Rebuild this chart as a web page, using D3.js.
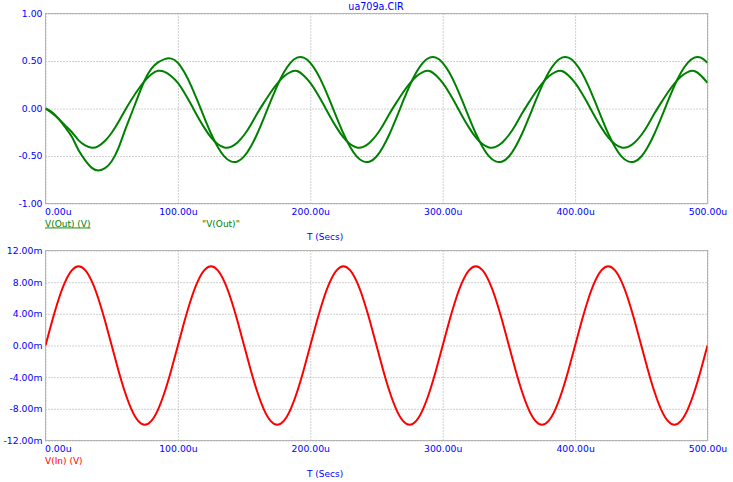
<!DOCTYPE html>
<html>
<head>
<meta charset="utf-8">
<script src="https://cdn.jsdelivr.net/npm/d3@7"></script>
<style>
  body { margin: 0; background: #fff; }
  text { font-family: "DejaVu Sans", sans-serif; font-size: 9px; }
</style>
</head>
<body>
<div id="chart"></div>
<script>
// sample times in microseconds (5u steps, 0..500u)
const times = d3.range(0, 501, 5);

// V(Out) trace with the larger swing
const vOutA = [
  0, -0.04, -0.11, -0.20, -0.30, -0.44, -0.545, -0.625, -0.652, -0.628,
  -0.555, -0.42, -0.23, -0.05, 0.13, 0.30, 0.42, 0.485, 0.52, 0.525,
  0.48, 0.378, 0.239, 0.074, -0.098, -0.263, -0.402, -0.504, -0.557, -0.558,
  -0.504, -0.402, -0.263, -0.098, 0.074, 0.239, 0.378, 0.480, 0.535, 0.535,
  0.481, 0.378, 0.239, 0.074, -0.098, -0.263, -0.402, -0.504, -0.557, -0.558,
  -0.505, -0.402, -0.263, -0.098, 0.074, 0.239, 0.378, 0.480, 0.535, 0.535,
  0.481, 0.378, 0.239, 0.074, -0.098, -0.263, -0.402, -0.504, -0.557, -0.558,
  -0.505, -0.402, -0.263, -0.098, 0.074, 0.239, 0.378, 0.480, 0.535, 0.535,
  0.481, 0.378, 0.239, 0.074, -0.098, -0.263, -0.402, -0.504, -0.557, -0.558,
  -0.505, -0.402, -0.263, -0.098, 0.074, 0.239, 0.378, 0.480, 0.535, 0.535,
  0.480
];

// V(Out) trace with the smaller swing
const vOutB = [
  0, -0.05, -0.11, -0.18, -0.25, -0.335, -0.388, -0.413, -0.395, -0.34,
  -0.255, -0.145, -0.02, 0.095, 0.20, 0.29, 0.36, 0.397, 0.385, 0.34,
  0.269, 0.163, 0.041, -0.086, -0.204, -0.304, -0.374, -0.410, -0.404, -0.357,
  -0.279, -0.173, -0.051, 0.062, 0.169, 0.263, 0.337, 0.383, 0.394, 0.347,
  0.269, 0.163, 0.041, -0.086, -0.204, -0.304, -0.374, -0.410, -0.404, -0.357,
  -0.279, -0.173, -0.051, 0.062, 0.169, 0.263, 0.337, 0.383, 0.394, 0.347,
  0.269, 0.163, 0.041, -0.086, -0.204, -0.304, -0.374, -0.410, -0.404, -0.357,
  -0.279, -0.173, -0.051, 0.062, 0.169, 0.263, 0.337, 0.383, 0.394, 0.347,
  0.269, 0.163, 0.041, -0.086, -0.204, -0.304, -0.374, -0.410, -0.404, -0.357,
  -0.279, -0.173, -0.051, 0.062, 0.169, 0.263, 0.337, 0.383, 0.394, 0.347,
  0.269
];

// V(In) in millivolts
const vIn = [
  0, 3.09, 5.88, 8.09, 9.51, 10, 9.51, 8.09, 5.88, 3.09,
  0, -3.09, -5.88, -8.09, -9.51, -10, -9.51, -8.09, -5.88, -3.09,
  0, 3.09, 5.88, 8.09, 9.51, 10, 9.51, 8.09, 5.88, 3.09,
  0, -3.09, -5.88, -8.09, -9.51, -10, -9.51, -8.09, -5.88, -3.09,
  0, 3.09, 5.88, 8.09, 9.51, 10, 9.51, 8.09, 5.88, 3.09,
  0, -3.09, -5.88, -8.09, -9.51, -10, -9.51, -8.09, -5.88, -3.09,
  0, 3.09, 5.88, 8.09, 9.51, 10, 9.51, 8.09, 5.88, 3.09,
  0, -3.09, -5.88, -8.09, -9.51, -10, -9.51, -8.09, -5.88, -3.09,
  0, 3.09, 5.88, 8.09, 9.51, 10, 9.51, 8.09, 5.88, 3.09,
  0, -3.09, -5.88, -8.09, -9.51, -10, -9.51, -8.09, -5.88, -3.09,
  0
];

const xTicks = [0, 100, 200, 300, 400, 500];
const yTicksTop = [-1, -0.5, 0, 0.5, 1];
const yTicksBottom = [-12, -8, -4, 0, 4, 8, 12];

const width = 733, height = 482;
const left = 45.5, right = 707.5;
const blue = "#0000ff", frame = "#b4b4b4", grid = "#a0a0a0";

const svg = d3.select("#chart").append("svg")
    .attr("width", width)
    .attr("height", height);

const x = d3.scaleLinear().domain([0, 500]).range([left, right]);

// one panel: frame, grid, tick labels, traces
function panel(top, bottom, yDomain, yTicks, yFmt, series, clipId) {
    const y = d3.scaleLinear().domain(yDomain).range([bottom, top]);
    const g = svg.append("g");

    const yAxis = g.append("g")
        .attr("transform", `translate(${left},0)`)
        .call(d3.axisLeft(y).tickValues(yTicks).tickSize(-(right - left)).tickPadding(3).tickFormat(yFmt));

    const xAxis = g.append("g")
        .attr("transform", `translate(0,${bottom})`)
        .call(d3.axisBottom(x).tickValues(xTicks).tickSize(-(bottom - top)).tickPadding(4.5)
            .tickFormat(d => d.toFixed(2) + "u"));

    [yAxis, xAxis].forEach(a => {
        a.select(".domain").remove();
        a.selectAll("line").attr("stroke", grid).attr("stroke-dasharray", "1,2");
        a.selectAll("text").attr("fill", blue)
            .style("font-family", '"DejaVu Sans", sans-serif').style("font-size", "9.3px");
    });
    xAxis.selectAll(".tick").filter(d => d === 0).select("text")
        .attr("text-anchor", "start").attr("x", -1);

    g.append("rect")
        .attr("x", left).attr("y", top)
        .attr("width", right - left).attr("height", bottom - top)
        .attr("fill", "none").attr("stroke", frame);

    g.append("clipPath").attr("id", clipId)
        .append("rect").attr("x", left).attr("y", top - 1)
        .attr("width", right - left).attr("height", bottom - top + 2);

    const line = d3.line()
        .x((d, i) => x(times[i]))
        .y(d => y(d))
        .curve(d3.curveNatural);

    series.forEach(s => {
        g.append("path")
            .attr("d", line(s.values))
            .attr("clip-path", `url(#${clipId})`)
            .attr("fill", "none")
            .attr("stroke", s.color)
            .attr("stroke-width", 2);
    });
    return y;
}

panel(13.5, 203.5, [-1, 1], yTicksTop, d => d.toFixed(2),
    [{ values: vOutA, color: "#008000" }, { values: vOutB, color: "#008000" }], "clipTop");
panel(250.5, 440.5, [-12, 12], yTicksBottom, d => d.toFixed(2) + "m",
    [{ values: vIn, color: "#ff0000" }], "clipBottom");

// title and labels
svg.append("text").attr("x", 376).attr("y", 10).attr("text-anchor", "middle")
    .attr("fill", blue).style("font-size", "9.6px").text("ua709a.CIR");

svg.append("text").attr("x", 45).attr("y", 226.5).attr("fill", "#008000")
    .attr("text-decoration", "underline").text("V(Out) (V)");
svg.append("text").attr("x", 202).attr("y", 226.5).attr("fill", "#008000")
    .text("\"V(Out)\"");
svg.append("text").attr("x", 307).attr("y", 239.5).attr("fill", blue).text("T (Secs)");

svg.append("text").attr("x", 45).attr("y", 463.5).attr("fill", "#ff0000").text("V(In) (V)");
svg.append("text").attr("x", 307).attr("y", 476.5).attr("fill", blue).text("T (Secs)");
</script>
</body>
</html>
